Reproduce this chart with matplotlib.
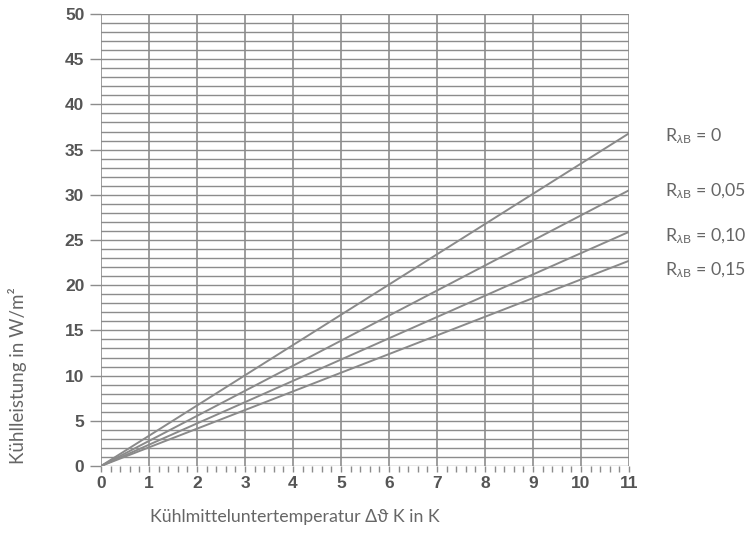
import numpy as np
import matplotlib
matplotlib.use("Agg")
from matplotlib import pyplot as plt

# readings
x_ends = [0, 11]
r_labels = ["0", "0,05", "0,10", "0,15"]
y_at_11 = [36.8, 30.5, 25.9, 22.7]
label_y = [36.5, 30.4, 25.4, 21.6]
x_ticks = list(range(0, 12))
y_ticks = list(range(0, 55, 5))

plt.rcParams['mathtext.fontset'] = 'custom'
plt.rcParams['mathtext.rm'] = 'Lato'
plt.rcParams['mathtext.it'] = 'Lato:italic'

fig = plt.figure(figsize=(7.46, 5.57), dpi=100)
ax = fig.add_axes([101 / 746, 1 - 466 / 557, 528 / 746, 452 / 557])

grid_c = '#8c8c8c'
line_c = '#8a8a8a'
txt_c = '#555555'

for v in range(0, 51):
    ax.axhline(v, color=grid_c, lw=1.0, zorder=1)
for v in x_ticks:
    ax.axvline(v, color=grid_c, lw=1.2, zorder=1)

for yend in y_at_11:
    ax.plot(x_ends, [0, yend], color=line_c, lw=1.4, zorder=3)

for lab, ly in zip(r_labels, label_y):
    ax.annotate(r'R$_{\lambda\mathrm{B}}$ = ' + lab, xy=(11, ly), xytext=(26, 0),
                textcoords='offset points', va='center', ha='left',
                fontsize=12.8, color='#666666', family='Lato',
                annotation_clip=False)

ax.set_xlim(0, 11)
ax.set_ylim(0, 50)
for s in ax.spines.values():
    s.set_visible(False)

ax.set_xticks(x_ticks)
ax.set_xticks(np.arange(0, 11.01, 0.2), minor=True)
ax.set_yticks(y_ticks)
ax.tick_params(axis='x', which='both', length=4, width=1, color=grid_c, pad=3)
ax.tick_params(axis='y', which='major', length=8, width=1, color=grid_c, pad=4)
for t in ax.get_xticklabels() + ax.get_yticklabels():
    t.set_fontweight('bold')
    t.set_fontsize(12.5)
    t.set_color(txt_c)
    t.set_family('Liberation Sans')

fig.text(18 / 746, 1 - 376 / 557, 'Kühlleistung in W/m²', rotation=90,
         ha='center', va='center', fontsize=13.5, color='#666666',
         family=['Lato', 'DejaVu Sans'])
fig.text(150 / 746, 1 - 517 / 557, 'Kühlmitteluntertemperatur Δϑ K in K',
         ha='left', va='center', fontsize=12.8, color='#666666',
         family=['Lato', 'DejaVu Sans'])

fig.savefig('out.png', dpi=100)
